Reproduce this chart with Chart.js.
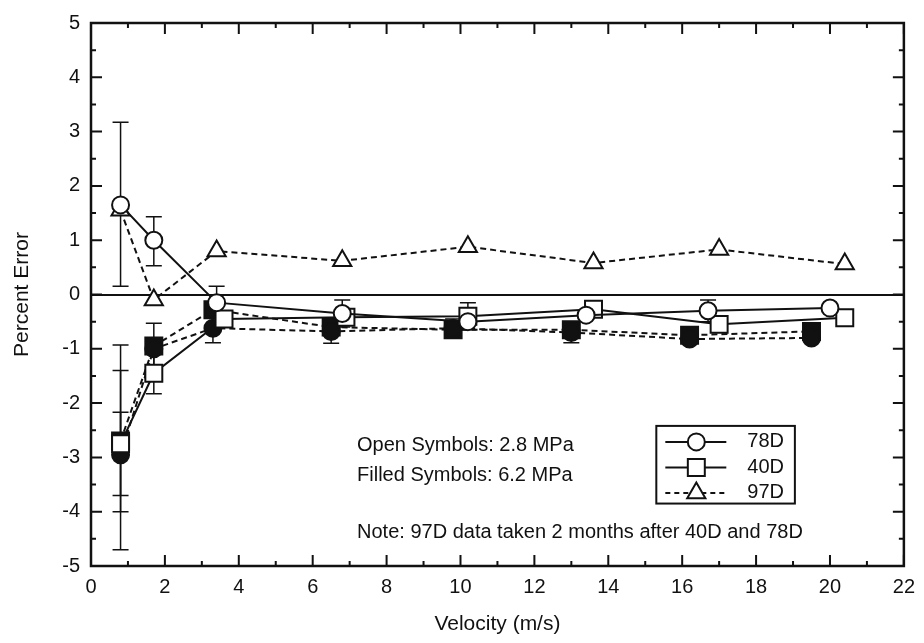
<!DOCTYPE html>
<html lang="en">
<head>
  <meta charset="UTF-8">
  <title>Percent Error vs Velocity</title>
  <script src="https://cdn.jsdelivr.net/npm/chart.js"></script>
  <style>
    body { margin: 0; background: #fff; }
    #wrap { width: 924px; height: 643px; }
  </style>
</head>
<body>

<div id="wrap"><canvas id="chart"></canvas></div>

<script>
// --- data (velocity in m/s, percent error) ---
const vel78open = [0.8, 1.7, 3.4, 6.8, 10.2, 13.4, 16.7, 20.0];
const pct78open = [1.65, 1.0, -0.15, -0.35, -0.5, -0.38, -0.3, -0.25];
const lo78open  = [0.15, 0.53, -0.3, -0.6, null, null, -0.5, null];
const hi78open  = [3.17, 1.43, 0.15, -0.1, null, null, -0.1, null];

const vel40open = [0.8, 1.7, 3.6, 6.9, 10.2, 13.6, 17.0, 20.4];
const pct40open = [-2.75, -1.45, -0.45, -0.42, -0.4, -0.27, -0.55, -0.43];
const lo40open  = [-4.0, -1.83, null, null, -0.65, null, null, null];
const hi40open  = [-1.4, -1.1, null, null, -0.15, null, null, null];

const vel97 = [0.8, 1.7, 3.4, 6.8, 10.2, 13.6, 17.0, 20.4];
const pct97 = [1.55, -0.1, 0.8, 0.62, 0.88, 0.58, 0.83, 0.56];

const vel78filled = [0.8, 1.7, 3.3, 6.5, 9.8, 13.0, 16.2, 19.5];
const pct78filled = [-2.95, -1.0, -0.62, -0.68, -0.62, -0.7, -0.82, -0.8];
const lo78filled  = [-4.7, null, -0.89, -0.9, -0.8, -0.89, -0.9, null];
const hi78filled  = [-0.93, null, -0.35, -0.45, -0.45, -0.5, -0.7, null];

const vel40filled = [0.8, 1.7, 3.3, 6.5, 9.8, 13.0, 16.2, 19.5];
const pct40filled = [-2.7, -0.95, -0.28, -0.6, -0.65, -0.65, -0.75, -0.68];
const lo40filled  = [-3.7, -1.35, null, null, null, null, null, null];
const hi40filled  = [-2.17, -0.53, null, null, null, null, null, null];

const xTicks = [0, 2, 4, 6, 8, 10, 12, 14, 16, 18, 20, 22];
const yTicks = [-5, -4, -3, -2, -1, 0, 1, 2, 3, 4, 5];

const FONT = "'Liberation Sans', Arial, sans-serif";
const INK = '#111';

function pts(xs, ys) {
  return xs.map((v, i) => ({ x: v, y: ys[i] }));
}

function series(label, xs, ys, style, filled, dashed, lo, hi) {
  return {
    label,
    data: pts(xs, ys),
    errLo: lo, errHi: hi,
    borderColor: INK,
    borderWidth: 2,
    borderDash: dashed ? [6, 4] : [],
    backgroundColor: filled ? INK : '#fff',
    pointStyle: style,
    pointRadius: style === 'rect' ? 12 : style === 'triangle' ? 10.5 : 8.5,
    pointBorderWidth: 2,
    pointBorderColor: INK,
    pointBackgroundColor: filled ? INK : '#fff',
    showLine: true,
    tension: 0
  };
}

// error bars, drawn under the markers
const errorBars = {
  id: 'errorBars',
  beforeDatasetsDraw(chart) {
    const { ctx, scales: { x, y } } = chart;
    ctx.save();
    ctx.strokeStyle = INK;
    ctx.lineWidth = 1.5;
    chart.data.datasets.forEach(ds => {
      if (!ds.errLo) return;
      ds.data.forEach((p, i) => {
        if (ds.errLo[i] == null) return;
        const px = x.getPixelForValue(p.x);
        const y1 = y.getPixelForValue(ds.errLo[i]);
        const y2 = y.getPixelForValue(ds.errHi[i]);
        ctx.beginPath();
        ctx.moveTo(px, y1); ctx.lineTo(px, y2);
        ctx.moveTo(px - 8, y1); ctx.lineTo(px + 8, y1);
        ctx.moveTo(px - 8, y2); ctx.lineTo(px + 8, y2);
        ctx.stroke();
      });
    });
    ctx.restore();
  }
};

// box round the plot with inward ticks (major + minor)
const frame = {
  id: 'frame',
  afterDraw(chart) {
    const { ctx, chartArea: a, scales: { x, y } } = chart;
    ctx.save();
    ctx.strokeStyle = INK;
    ctx.lineWidth = 2.5;
    ctx.strokeRect(a.left, a.top, a.right - a.left, a.bottom - a.top);
    ctx.lineWidth = 2;
    ctx.beginPath();
    for (let v = x.min; v <= x.max; v += 1) {
      const px = x.getPixelForValue(v);
      const len = v % 2 === 0 ? 11 : 5;
      ctx.moveTo(px, a.bottom); ctx.lineTo(px, a.bottom - len);
      ctx.moveTo(px, a.top); ctx.lineTo(px, a.top + len);
    }
    for (let v = y.min; v <= y.max; v += 0.5) {
      const py = y.getPixelForValue(v);
      const len = Number.isInteger(v) ? 11 : 5;
      ctx.moveTo(a.left, py); ctx.lineTo(a.left + len, py);
      ctx.moveTo(a.right, py); ctx.lineTo(a.right - len, py);
    }
    ctx.stroke();
    ctx.restore();
  }
};

// notes and the boxed key inside the plot
const notes = {
  id: 'notes',
  afterDraw(chart) {
    const { ctx, scales: { x, y } } = chart;
    ctx.save();
    ctx.fillStyle = INK;
    ctx.font = '20px ' + FONT;
    ctx.textBaseline = 'middle';
    ctx.textAlign = 'left';
    const tx = x.getPixelForValue(7.2);
    ctx.fillText('Open Symbols: 2.8 MPa', tx, y.getPixelForValue(-2.78));
    ctx.fillText('Filled Symbols: 6.2 MPa', tx, y.getPixelForValue(-3.33));
    ctx.fillText('Note: 97D data taken 2 months after 40D and 78D', tx, y.getPixelForValue(-4.38));

    // key box
    const bx1 = x.getPixelForValue(15.3), bx2 = x.getPixelForValue(19.05);
    const by1 = y.getPixelForValue(-2.42), by2 = y.getPixelForValue(-3.85);
    ctx.strokeStyle = INK;
    ctx.lineWidth = 2;
    ctx.strokeRect(bx1, by1, bx2 - bx1, by2 - by1);

    const rows = [
      { label: '78D', style: 'circle', r: 8.5, dash: [] },
      { label: '40D', style: 'rect', r: 12, dash: [] },
      { label: '97D', style: 'triangle', r: 10.5, dash: [5, 4] }
    ];
    rows.forEach((row, i) => {
      const ry = by1 + 16 + i * 25.5;
      const lx1 = bx1 + 9, lx2 = bx1 + 70, cx = bx1 + 40;
      ctx.setLineDash(row.dash);
      ctx.lineWidth = 2;
      ctx.beginPath();
      ctx.moveTo(lx1, ry); ctx.lineTo(lx2, ry);
      ctx.stroke();
      ctx.setLineDash([]);
      ctx.fillStyle = '#fff';
      Chart.helpers.drawPoint(ctx, { pointStyle: row.style, radius: row.r, borderWidth: 2 }, cx, ry);
      ctx.fillStyle = INK;
      ctx.textAlign = 'left';
      ctx.fillText(row.label, bx1 + 91, ry);
    });
    ctx.restore();
  }
};

new Chart(document.getElementById('chart'), {
  type: 'scatter',
  data: {
    datasets: [
      series('78D 2.8 MPa', vel78open, pct78open, 'circle', false, false, lo78open, hi78open),
      series('40D 2.8 MPa', vel40open, pct40open, 'rect', false, false, lo40open, hi40open),
      series('97D', vel97, pct97, 'triangle', false, true, null, null),
      series('78D 6.2 MPa', vel78filled, pct78filled, 'circle', true, true, lo78filled, hi78filled),
      series('40D 6.2 MPa', vel40filled, pct40filled, 'rect', true, true, lo40filled, hi40filled)
    ]
  },
  options: {
    responsive: true,
    maintainAspectRatio: false,
    animation: false,
    layout: { padding: { top: 16, right: 16, left: 0, bottom: 0 } },
    plugins: {
      legend: { display: false },
      tooltip: { enabled: false }
    },
    scales: {
      x: {
        type: 'linear',
        min: 0, max: 22,
        afterBuildTicks: s => { s.ticks = xTicks.map(v => ({ value: v })); },
        afterFit: s => { s.height = 77; },
        grid: { display: false, drawTicks: false },
        border: { display: false },
        ticks: { color: INK, padding: 9, font: { family: FONT, size: 20 } },
        title: {
          display: true, text: 'Velocity (m/s)', color: INK,
          font: { family: FONT, size: 21 }, padding: { top: 0, bottom: 6 }
        }
      },
      y: {
        type: 'linear',
        min: -5, max: 5,
        afterBuildTicks: s => { s.ticks = yTicks.map(v => ({ value: v })); },
        afterFit: s => { s.width = 91; },
        grid: {
          drawTicks: false,
          color: c => (c.tick && c.tick.value === 0 ? INK : 'rgba(0,0,0,0)'),
          lineWidth: 2
        },
        border: { display: false },
        ticks: { color: INK, padding: 11, font: { family: FONT, size: 20 } },
        title: {
          display: true, text: 'Percent Error', color: INK,
          font: { family: FONT, size: 21 }, padding: { top: 10, bottom: 0 }
        }
      }
    }
  },
  plugins: [errorBars, frame, notes]
});
</script>

</body>
</html>
